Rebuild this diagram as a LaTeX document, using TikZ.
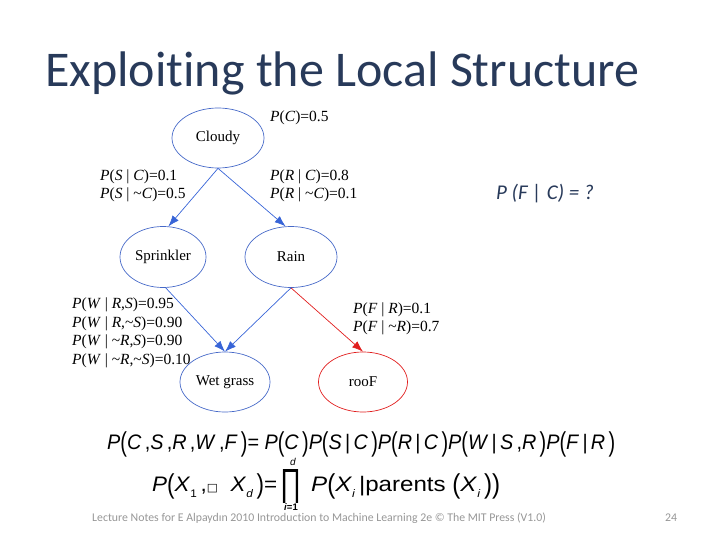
\documentclass[tikz,border=0pt]{standalone}
\usepackage{fontspec}
\setmainfont{Liberation Serif}
\newfontfamily\calib[Ligatures=NoCommon]{Carlito}
\newfontfamily\arial{Liberation Sans}
\newfontfamily\dejavu{DejaVu Sans}
\usepackage{graphicx}
\usetikzlibrary{shapes.geometric,arrows.meta}
\definecolor{titlec}{RGB}{40,58,90}
\definecolor{edgeblue}{RGB}{55,100,215}
\definecolor{nodeblue}{RGB}{70,105,200}
\definecolor{edgered}{RGB}{225,30,30}
\definecolor{footgray}{RGB}{150,150,150}
\newcommand\lpar{\raisebox{-0.12em}{\scalebox{1}[1.3]{(}}}
\newcommand\rpar{\raisebox{-0.12em}{\scalebox{1}[1.3]{)}}}
\newcommand\ub[1]{\textup{#1}}
\newcommand\subs[1]{\raisebox{-0.3em}{\fontsize{11}{11}\selectfont #1}}
\begin{document}
\begin{tikzpicture}[x=1pt,y=-1pt,
  bnode/.style={ellipse,draw=nodeblue,line width=0.7pt,minimum width=90pt,minimum height=60pt,inner sep=0pt,font=\fontsize{15}{17}\selectfont},
  rnode/.style={bnode,draw=edgered},
  barrow/.style={draw=edgeblue,line width=0.7pt,-{Latex[length=11pt,width=8pt]}},
  rarrow/.style={draw=edgered,line width=0.7pt,-{Latex[length=11pt,width=8pt]}},
  cpt/.style={anchor=west,align=left,inner sep=0pt,font=\fontsize{15.5}{18.5}\selectfont\itshape},
  eqs/.style={anchor=base west,inner sep=0pt,font=\arial\fontsize{21}{24}\selectfont},
]
\useasboundingbox (0,0) rectangle (720,540);
% title
\node[anchor=base west,inner sep=0pt,text=titlec,font=\calib\fontsize{50}{56}\selectfont] (title) at (45,87) {Exploiting the Local Structure};
% nodes
\node[bnode,minimum width=92pt] (c) at (218,138) {Cloudy};
\node[bnode,minimum width=86pt,minimum height=61pt] (s) at (163,257) {Sprinkler};
\node[bnode,minimum width=92pt,minimum height=61pt] (r) at (291,257) {Rain};
\node[bnode] (w) at (225,382) {Wet grass};
\node[rnode,minimum width=89pt] (f) at (363,382) {rooF};
% edges
\draw[barrow] (c.south) -- (s.80);
\draw[barrow] (c.south) -- (r.100);
\draw[barrow] (s.-85) -- (w.north);
\draw[barrow] (r.south) -- (w.north);
\draw[rarrow] (r.south) -- (f.north);
% CPT labels
\node[cpt] (pc) at (270,118) {P\ub{(}C\ub{)=0.5}};
\node[cpt] (ps) at (100,186) {P\ub{(}S\ub{ | }C\ub{)=0.1}\\P\ub{(}S\ub{ | \textasciitilde}C\ub{)=0.5}};
\node[cpt] (pr) at (270,186) {P\ub{(}R\ub{ | }C\ub{)=0.8}\\P\ub{(}R\ub{ | \textasciitilde}C\ub{)=0.1}};
\node[cpt] (pw) at (72,333) {P\ub{(}W\ub{ | }R\ub{,}S\ub{)=0.95}\\P\ub{(}W\ub{ | }R\ub{,\textasciitilde}S\ub{)=0.90}\\P\ub{(}W\ub{ | \textasciitilde}R\ub{,}S\ub{)=0.90}\\P\ub{(}W\ub{ | \textasciitilde}R\ub{,\textasciitilde}S\ub{)=0.10}};
\node[cpt] (pf) at (353,319) {P\ub{(}F\ub{ | }R\ub{)=0.1}\\P\ub{(}F\ub{ | \textasciitilde}R\ub{)=0.7}};
% question
\node[anchor=base,inner sep=0pt,text=titlec,font=\calib\itshape\fontsize{21}{24}\selectfont] (q) at (545,200) {P (F \textbar{} C) = ?};
% equations
\node[eqs] (eq1) at (107,449)
 {\resizebox{508pt}{\height}{\textit{P}\lpar\textit{C}\,,\textit{S}\,,\textit{R}\,,\textit{W}\,,\textit{F}\,\rpar= \textit{P}\lpar\textit{C}\,\rpar\textit{P}\lpar\textit{S}\,\textbar\,\textit{C}\,\rpar\textit{P}\lpar\textit{R}\,\textbar\,\textit{C}\,\rpar\textit{P}\lpar\textit{W}\,\textbar\,\textit{S}\,,\textit{R}\,\rpar\textit{P}\lpar\textit{F}\,\textbar\,\textit{R}\,\rpar}};
\node[eqs] (eq2a) at (152,491)
 {\resizebox{125pt}{\height}{\textit{P}\lpar\textit{X}\subs{1}\,,{\dejavu\fontsize{11}{11}\selectfont □}\hspace{12pt}\textit{X}\subs{\itshape d}\,\rpar=}};
\node[inner sep=0pt,font=\arial\fontsize{20}{24}\selectfont] (prod) at (291,486.5) {\resizebox{21pt}{26pt}{∏}};
\node[anchor=base,inner sep=0pt,font=\arial\itshape\fontsize{10}{10}\selectfont] (dd) at (293,465) {d};
\node[anchor=base,inner sep=0pt,font=\arial\bfseries\fontsize{9.5}{10}\selectfont] (ii) at (291,510) {\textit{i}=1};
\node[eqs] (eq2b) at (311,491)
 {\resizebox{189pt}{\height}{\textit{P}\lpar\textit{X}\subs{\itshape i}\,\textbar parents \lpar\textit{X}\subs{\itshape i}\,\rpar\rpar}};
% footer
\node[anchor=base west,inner sep=0pt,text=footgray,font=\calib\fontsize{11.8}{13}\selectfont] (foot) at (92,521) {Lecture Notes for E Alpaydın 2010 Introduction to Machine Learning 2e © The MIT Press (V1.0)};
\node[anchor=base west,inner sep=0pt,text=footgray,font=\calib\fontsize{11.8}{13}\selectfont] (pg) at (665,521) {24};
\end{tikzpicture}
\end{document}
